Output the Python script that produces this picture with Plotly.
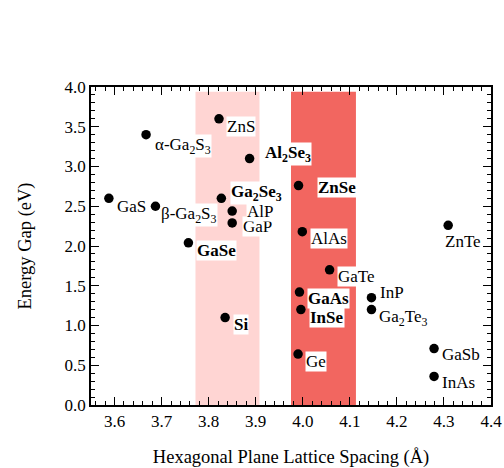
import plotly.graph_objects as go

# ---- data ----
materials = ["ZnS", "α-Ga2S3", "Al2Se3", "Ga2Se3", "GaS", "β-Ga2S3", "AlP", "GaP", "GaSe",
             "ZnSe", "AlAs", "ZnTe", "GaTe", "GaAs", "InP", "InSe", "Ga2Te3", "Si", "Ge",
             "GaSb", "InAs"]
lattice = [3.822, 3.667, 3.887, 3.827, 3.588, 3.687, 3.850, 3.850, 3.757,
           3.991, 3.999, 4.309, 4.057, 3.993, 4.146, 3.996, 4.146, 3.835, 3.990,
           4.279, 4.279]
gap = [3.60, 3.40, 3.10, 2.60, 2.60, 2.50, 2.44, 2.29, 2.04,
       2.76, 2.18, 2.26, 1.70, 1.42, 1.35, 1.20, 1.20, 1.10, 0.64,
       0.71, 0.36]
highlighted = ["Al2Se3", "Ga2Se3", "GaSe", "ZnSe", "GaAs", "InSe", "Si"]
band_light = [3.772, 3.908]
band_dark = [3.975, 4.113]
band_top = 3.94

# ---- presentation ----
display = {
    "α-Ga2S3": "α-Ga<sub>2</sub>S<sub>3</sub>",
    "β-Ga2S3": "β-Ga<sub>2</sub>S<sub>3</sub>",
    "Al2Se3": "Al<sub>2</sub>Se<sub>3</sub>",
    "Ga2Se3": "Ga<sub>2</sub>Se<sub>3</sub>",
    "Ga2Te3": "Ga<sub>2</sub>Te<sub>3</sub>",
}
# label offsets in pixels (dx right, dy down)
offsets = {
    "ZnS": (7, 8), "α-Ga2S3": (8, 11), "Al2Se3": (14, -5), "Ga2Se3": (9, -5),
    "GaS": (7, 8), "β-Ga2S3": (5, 9), "AlP": (14, 0), "GaP": (10, 4), "GaSe": (8, 8),
    "ZnSe": (18, 2), "AlAs": (8, 7), "ZnTe": (-4, 16), "GaTe": (7, 7), "GaAs": (8, 6),
    "InP": (8, -5), "InSe": (8, 8), "Ga2Te3": (7, 8), "Si": (8, 7), "Ge": (7, 7),
    "GaSb": (7, 6), "InAs": (7, 6),
}
draw_last = ["AlP"]  # label boxes drawn on top of their neighbours

FONT = "Liberation Serif, Times New Roman, serif"

fig = go.Figure()

fig.add_shape(type="rect", xref="x", yref="y", x0=band_light[0], x1=band_light[1],
              y0=0, y1=band_top, fillcolor="#FFD5D3", line=dict(width=0), layer="below")
fig.add_shape(type="rect", xref="x", yref="y", x0=band_dark[0], x1=band_dark[1],
              y0=0, y1=band_top, fillcolor="#F26660", line=dict(width=0), layer="below")

fig.add_trace(go.Scatter(x=lattice, y=gap, mode="markers",
                         marker=dict(color="black", size=9.5), hoverinfo="skip",
                         showlegend=False))

records = list(zip(materials, lattice, gap))
records.sort(key=lambda r: r[0] in draw_last)
for name, xv, yv in records:
    txt = display.get(name, name)
    if name in highlighted:
        txt = "<b>" + txt + "</b>"
    dx, dy = offsets[name]
    fig.add_annotation(x=xv, y=yv, xref="x", yref="y", text=txt, showarrow=False,
                       xanchor="left", yanchor="middle", xshift=dx, yshift=-dy,
                       bgcolor="white", borderpad=0,
                       font=dict(family=FONT, size=17, color="black"))

axis_common = dict(
    showgrid=False, zeroline=False, showline=True, linecolor="black", linewidth=1.5,
    mirror="allticks", ticks="inside", ticklen=8, tickwidth=1.2, tickcolor="black",
    tickfont=dict(family=FONT, size=17, color="black"), automargin=False,
    minor=dict(ticks="inside", ticklen=4, tickwidth=1, tickcolor="black"),
)

fig.update_xaxes(range=[3.55, 4.4], dtick=0.1, tick0=3.6, tickformat=".1f",
                 minor_dtick=0.02,
                 title=dict(text="Hexagonal Plane Lattice Spacing (Å)",
                            font=dict(family=FONT, size=18.5, color="black"), standoff=24),
                 **axis_common)
fig.update_yaxes(range=[0, 4.0], dtick=0.5, tickformat=".1f", minor_dtick=0.1,
                 title=dict(text="Energy Gap (eV)",
                            font=dict(family=FONT, size=18.5, color="black"), standoff=28),
                 **axis_common)

fig.update_layout(width=504, height=468, margin=dict(l=91, r=13, t=87, b=63),
                  plot_bgcolor="white", paper_bgcolor="white",
                  font=dict(family=FONT, size=17, color="black"))

fig.write_html("out.html")
